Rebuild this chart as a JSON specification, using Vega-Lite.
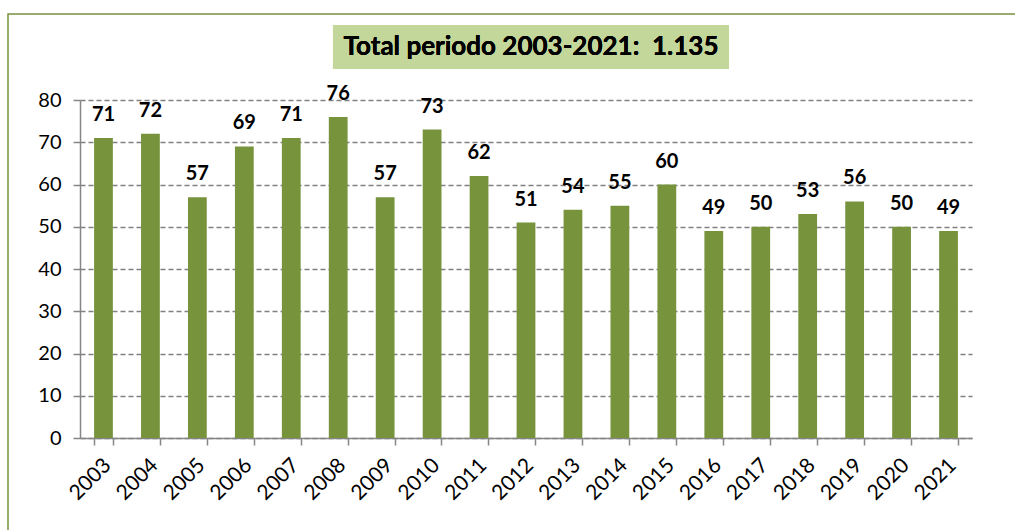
{
  "$schema": "https://vega.github.io/schema/vega-lite/v6.json",
  "autosize": "none",
  "width": 892,
  "height": 338,
  "padding": {"left": 80, "top": 100, "right": 43, "bottom": 92},
  "background": "white",
  "config": {"view": {"stroke": null}, "font": "Lato"},
  "datasets": {
    "counts": [
      {"year": "2003", "n": 71}, {"year": "2004", "n": 72}, {"year": "2005", "n": 57},
      {"year": "2006", "n": 69}, {"year": "2007", "n": 71}, {"year": "2008", "n": 76},
      {"year": "2009", "n": 57}, {"year": "2010", "n": 73}, {"year": "2011", "n": 62},
      {"year": "2012", "n": 51}, {"year": "2013", "n": 54}, {"year": "2014", "n": 55},
      {"year": "2015", "n": 60}, {"year": "2016", "n": 49}, {"year": "2017", "n": 50},
      {"year": "2018", "n": 53}, {"year": "2019", "n": 56}, {"year": "2020", "n": 50},
      {"year": "2021", "n": 49}
    ],
    "frame": [
      {"fx": 0, "fy": 0, "o": 1},
      {"fx": 0, "fy": 1, "o": 2},
      {"fx": 1, "fy": 1, "o": 3}
    ]
  },
  "layer": [
    {
      "data": {"name": "frame"},
      "layer": [
        {
          "mark": {"type": "line", "color": "#77933C", "strokeWidth": 1.5},
          "encoding": {
            "x": {"field": "fx", "type": "quantitative", "axis": null, "scale": {"domain": [0, 1], "range": [-72, 935], "nice": false, "zero": false}},
            "y": {"field": "fy", "type": "quantitative", "axis": null, "scale": {"domain": [0, 1], "range": [430, -86], "nice": false, "zero": false}},
            "order": {"field": "o"}
          }
        },
        {
          "mark": {"type": "rect", "color": "#C4D79B"},
          "encoding": {
            "x": {"datum": 0.3227, "type": "quantitative"},
            "x2": {"datum": 0.716},
            "y": {"datum": 0.9787, "type": "quantitative"},
            "y2": {"datum": 0.8934}
          }
        },
        {
          "mark": {"type": "text", "fontSize": 26, "fontWeight": "bold", "color": "#000000", "align": "center", "baseline": "middle", "text": "Total periodo 2003-2021: \u00a01.135"},
          "encoding": {
            "x": {"datum": 0.5194, "type": "quantitative"},
            "y": {"datum": 0.936, "type": "quantitative"}
          }
        }
      ]
    },
    {
      "data": {"name": "counts"},
      "encoding": {
        "x": {
          "field": "year", "type": "nominal", "sort": null,
          "scale": {"paddingInner": 0.6, "paddingOuter": 0.3},
          "axis": {
            "orient": "bottom",
            "title": null, "labelAngle": -45, "labelFontSize": 21, "labelColor": "#000000",
            "labelAlign": "right", "labelBaseline": "middle",
            "domainColor": "#868686", "domainWidth": 1.5, "tickColor": "#868686", "tickWidth": 1.5,
            "tickSize": 7, "tickBand": "extent", "labelPadding": 17, "labelOffset": 4, "grid": false
          }
        },
        "y": {
          "field": "n", "type": "quantitative",
          "scale": {"domain": [0, 80], "nice": false},
          "axis": {
            "orient": "left",
            "title": null, "values": [0, 10, 20, 30, 40, 50, 60, 70, 80], "labelFontSize": 20, "labelColor": "#000000",
            "domainColor": "#868686", "domainWidth": 1.5, "tickColor": "#868686", "tickWidth": 1.5,
            "tickSize": 7, "labelPadding": 12,
            "grid": true, "gridColor": "#808080", "gridWidth": 1.5, "gridDash": [5, 3]
          }
        }
      },
      "layer": [
        {"mark": {"type": "bar", "color": "#77933C"}},
        {
          "mark": {"type": "text", "fontSize": 20, "fontWeight": "bold", "color": "#000000", "baseline": "alphabetic", "dy": -17},
          "encoding": {"text": {"field": "n", "type": "quantitative"}}
        }
      ]
    }
  ],
  "resolve": {"scale": {"x": "independent", "y": "independent"}}
}
